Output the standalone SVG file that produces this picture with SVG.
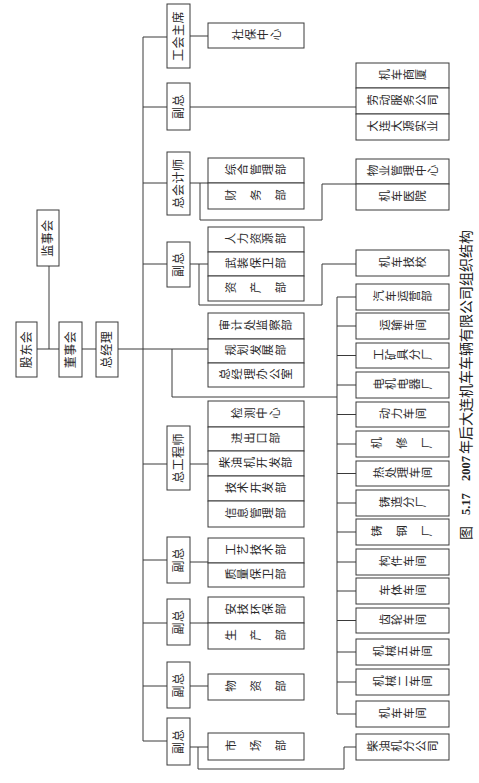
<svg xmlns="http://www.w3.org/2000/svg" width="479" height="783" viewBox="0 0 479 783">
<style>
.b{fill:#fff;stroke:#3a3a3a;stroke-width:1}
.c{fill:none;stroke:#3a3a3a;stroke-width:1}
.v{font-family:"Liberation Serif","Noto Sans CJK SC",serif;font-size:12px;fill:#2a2a2a;text-anchor:middle;dominant-baseline:central;letter-spacing:0.5px}
.h{font-family:"Liberation Serif","Noto Sans CJK SC",serif;font-size:11.5px;fill:#2a2a2a;text-anchor:middle;dominant-baseline:central;writing-mode:vertical-rl;letter-spacing:1px}
.r{letter-spacing:0.5px}
.cap{font-family:"Liberation Serif","Noto Sans CJK SC",serif;font-size:14px;fill:#222;dominant-baseline:central}
.num{font-weight:bold;font-size:12.5px}
</style>
<rect width="479" height="783" fill="#fff"/>
<g id="connectors">
<path class="c" d="M37,349H59M49,266V349M82,349H96M118,349H208"/>
<path class="c" d="M143,37V741M143,37H167M143,107H167M143,183H167M143,264H167M143,464H167M143,560H167M143,623H167M143,686H167M143,741H167"/>
<path class="c" d="M190,36H208"/>
<path class="c" d="M190,107H356"/>
<path class="c" d="M190,183H208M200,183V220H322V184H356"/>
<path class="c" d="M190,264H208M199,264V305H322V264H356"/>
<path class="c" d="M172,349V397H337"/>
<path class="c" d="M190,464H208M190,562H208M190,623H208M190,686H208"/>
<path class="c" d="M190,747H208M198,747V769H344V747H356"/>
<path class="c" d="M337,297V714M337,297H356M337,326H356M337,355.5H356M337,385H356M337,414.5H356M337,444H356M337,473.5H356M337,503H356M337,532H356M337,562H356M337,591H356M337,620.5H356M337,652H356M337,682H356M337,714H356"/>
</g>
<g id="gudonghui"><rect class="b" x="16" y="322" width="21" height="55"/><text class="v" transform="translate(26.5,349.5) rotate(-90)">股东会</text></g>
<g id="jianshihui"><rect class="b" x="37" y="210" width="22" height="56"/><text class="v" transform="translate(48,238) rotate(-90)">监事会</text></g>
<g id="dongshihui"><rect class="b" x="59" y="322" width="23" height="55"/><text class="v" transform="translate(70.5,349.5) rotate(-90)">董事会</text></g>
<g id="zongjingli"><rect class="b" x="96" y="322" width="22" height="55"/><text class="v" transform="translate(107,349.5) rotate(-90)">总经理</text></g>
<g id="gonghuizhuxi"><rect class="b" x="167" y="4" width="23" height="64"/><text class="v" transform="translate(178.5,36) rotate(-90)">工会主席</text></g>
<g id="fuzong1"><rect class="b" x="167" y="83" width="23" height="47"/><text class="v" transform="translate(178.5,106.5) rotate(-90)">副总</text></g>
<g id="zongkuaijishi"><rect class="b" x="167" y="152" width="23" height="63"/><text class="v" transform="translate(178.5,183.5) rotate(-90)">总会计师</text></g>
<g id="fuzong2"><rect class="b" x="167" y="242" width="23" height="45"/><text class="v" transform="translate(178.5,264.5) rotate(-90)">副总</text></g>
<g id="zonggongchengshi"><rect class="b" x="167" y="426" width="23" height="64"/><text class="v" transform="translate(178.5,458) rotate(-90)">总工程师</text></g>
<g id="fuzong3"><rect class="b" x="167" y="537" width="23" height="46"/><text class="v" transform="translate(178.5,560) rotate(-90)">副总</text></g>
<g id="fuzong4"><rect class="b" x="167" y="599" width="23" height="46"/><text class="v" transform="translate(178.5,622) rotate(-90)">副总</text></g>
<g id="fuzong5"><rect class="b" x="167" y="662" width="23" height="46"/><text class="v" transform="translate(178.5,685) rotate(-90)">副总</text></g>
<g id="fuzong6"><rect class="b" x="167" y="718" width="23" height="47"/><text class="v" transform="translate(178.5,741.5) rotate(-90)">副总</text></g>
<g id="shebaozhongxin"><rect class="b" x="208" y="23" width="96" height="25"/><text class="h" transform="translate(257,35.5) rotate(-90)">社保中心</text></g>
<g id="caiwu-group">
<rect class="b" x="208" y="158" width="96" height="25"/><text class="h" transform="translate(256,170.5) rotate(-90)">综合管理部</text>
<rect class="b" x="208" y="183" width="96" height="26"/><text class="h" transform="translate(256,196) rotate(-90)">财　务　部</text>
</g>
<g id="renli-group">
<rect class="b" x="208" y="227" width="96" height="25"/><text class="h" transform="translate(256,239.5) rotate(-90)">人力资源部</text>
<rect class="b" x="208" y="252" width="96" height="24"/><text class="h" transform="translate(256,264) rotate(-90)">武装保卫部</text>
<rect class="b" x="208" y="276" width="96" height="25"/><text class="h" transform="translate(256,288.5) rotate(-90)">资　产　部</text>
</g>
<g id="shenji-group">
<rect class="b" x="208" y="313" width="96" height="26"/><text class="h" transform="translate(256,326) rotate(-90)">审计处监察部</text>
<rect class="b" x="208" y="339" width="96" height="24"/><text class="h" transform="translate(256,351) rotate(-90)">规划发展部</text>
<rect class="b" x="208" y="363" width="96" height="24"/><text class="h" transform="translate(256,375) rotate(-90)">总经理办公室</text>
</g>
<g id="jiance-group">
<rect class="b" x="208" y="401" width="96" height="26"/><text class="h" transform="translate(256,414) rotate(-90)">检测中心</text>
<rect class="b" x="208" y="427" width="96" height="24"/><text class="h" transform="translate(256,439) rotate(-90)">进出口部</text>
<rect class="b" x="208" y="451" width="96" height="25"/><text class="h" transform="translate(256,463.5) rotate(-90)">柴油机开发部</text>
<rect class="b" x="208" y="476" width="96" height="25"/><text class="h" transform="translate(256,488.5) rotate(-90)">技术开发部</text>
<rect class="b" x="208" y="501" width="96" height="26"/><text class="h" transform="translate(256,514) rotate(-90)">信息管理部</text>
</g>
<g id="gongyi-group">
<rect class="b" x="208" y="538" width="96" height="25"/><text class="h" transform="translate(256,550.5) rotate(-90)">工艺技术部</text>
<rect class="b" x="208" y="563" width="96" height="24"/><text class="h" transform="translate(256,575) rotate(-90)">质量保卫部</text>
</g>
<g id="anji-group">
<rect class="b" x="208" y="597" width="96" height="26"/><text class="h" transform="translate(256,610) rotate(-90)">安技环保部</text>
<rect class="b" x="208" y="623" width="96" height="26"/><text class="h" transform="translate(256,636) rotate(-90)">生　产　部</text>
</g>
<g id="wuzibu"><rect class="b" x="208" y="674" width="96" height="26"/><text class="h" transform="translate(256,687) rotate(-90)">物　资　部</text></g>
<g id="shichangbu"><rect class="b" x="208" y="733" width="96" height="27"/><text class="h" transform="translate(256,746.5) rotate(-90)">市　场　部</text></g>
<g id="shangsha-group">
<rect class="b" x="356" y="63" width="93" height="25"/><text class="h r" transform="translate(402.5,75.5) rotate(-90)">机车商厦</text>
<rect class="b" x="356" y="88" width="93" height="26"/><text class="h r" transform="translate(402.5,101) rotate(-90)">劳动服务公司</text>
<rect class="b" x="356" y="114" width="93" height="26"/><text class="h r" transform="translate(402.5,127) rotate(-90)">大连大源实业</text>
</g>
<g id="wuye-group">
<rect class="b" x="356" y="159" width="93" height="25"/><text class="h r" transform="translate(402.5,171.5) rotate(-90)">物业管理中心</text>
<rect class="b" x="356" y="184" width="93" height="26"/><text class="h r" transform="translate(402.5,197) rotate(-90)">机车医院</text>
</g>
<g id="jichejixiao"><rect class="b" x="356" y="250" width="93" height="26"/><text class="h r" transform="translate(402.5,263) rotate(-90)">机车技校</text></g>
<g id="qiche"><rect class="b" x="356" y="284" width="93" height="26"/><text class="h r" transform="translate(402.5,297) rotate(-90)">汽车运营部</text></g>
<g id="yunshu"><rect class="b" x="356" y="313" width="93" height="26"/><text class="h r" transform="translate(402.5,326) rotate(-90)">运输车间</text></g>
<g id="gongkuang"><rect class="b" x="356" y="343" width="93" height="25"/><text class="h r" transform="translate(402.5,355.5) rotate(-90)">工矿具分厂</text></g>
<g id="dianji"><rect class="b" x="356" y="372" width="93" height="26"/><text class="h r" transform="translate(402.5,385) rotate(-90)">电机电器厂</text></g>
<g id="dongli"><rect class="b" x="356" y="402" width="93" height="25"/><text class="h r" transform="translate(402.5,414.5) rotate(-90)">动力车间</text></g>
<g id="jixiu"><rect class="b" x="356" y="431" width="93" height="26"/><text class="h" transform="translate(402.5,444) rotate(-90)">机　修　厂</text></g>
<g id="rechuli"><rect class="b" x="356" y="461" width="93" height="25"/><text class="h r" transform="translate(402.5,473.5) rotate(-90)">热处理车间</text></g>
<g id="zhuzao"><rect class="b" x="356" y="490" width="93" height="26"/><text class="h r" transform="translate(402.5,503) rotate(-90)">铸造分厂</text></g>
<g id="zhugang"><rect class="b" x="356" y="519" width="93" height="26"/><text class="h" transform="translate(402.5,532) rotate(-90)">铸　钢　厂</text></g>
<g id="goujian"><rect class="b" x="356" y="549" width="93" height="26"/><text class="h r" transform="translate(402.5,562) rotate(-90)">构件车间</text></g>
<g id="cheti"><rect class="b" x="356" y="578" width="93" height="26"/><text class="h r" transform="translate(402.5,591) rotate(-90)">车体车间</text></g>
<g id="chilun"><rect class="b" x="356" y="608" width="93" height="25"/><text class="h r" transform="translate(402.5,620.5) rotate(-90)">齿轮车间</text></g>
<g id="jixie5"><rect class="b" x="356" y="639" width="93" height="26"/><text class="h r" transform="translate(402.5,652) rotate(-90)">机械五车间</text></g>
<g id="jixie2"><rect class="b" x="356" y="669" width="93" height="26"/><text class="h r" transform="translate(402.5,682) rotate(-90)">机械二车间</text></g>
<g id="jiche"><rect class="b" x="356" y="701" width="93" height="26"/><text class="h r" transform="translate(402.5,714) rotate(-90)">机车车间</text></g>
<g id="chaiyouji"><rect class="b" x="356" y="734" width="93" height="26"/><text class="h r" transform="translate(402.5,747) rotate(-90)">柴油机分公司</text></g>
<g id="caption"><text class="cap" transform="translate(466,540) rotate(-90)"><tspan x="0">图</tspan><tspan class="num" x="25">5.17</tspan><tspan class="num" x="59">2007</tspan><tspan x="86">年后大连机车车辆有限公司组织结构</tspan></text></g>
</svg>
